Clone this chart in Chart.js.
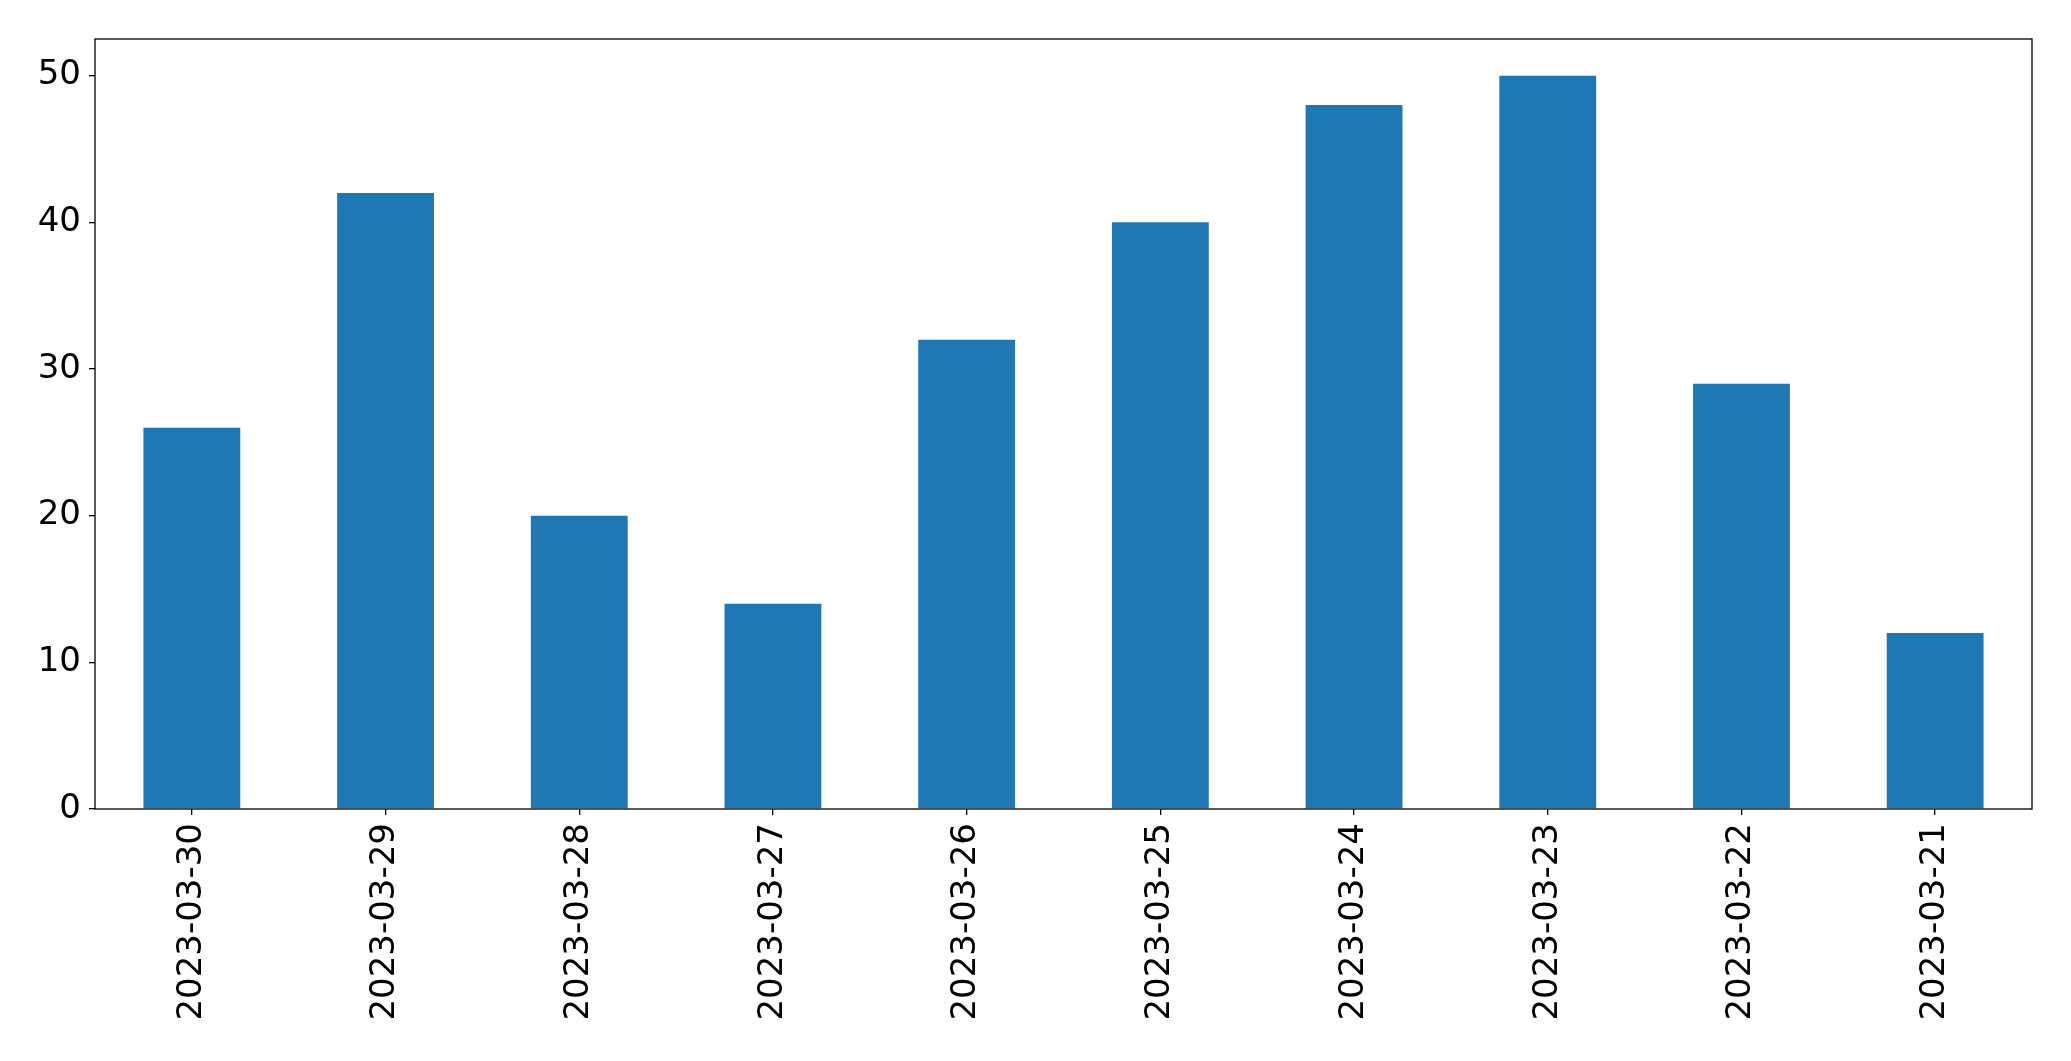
<!DOCTYPE html>
<html>
<head>
<meta charset="utf-8">
<script src="https://cdn.jsdelivr.net/npm/chart.js@4/dist/chart.umd.min.js"></script>
<style>
  html, body { margin: 0; padding: 0; background: #fff; }
  #wrap { width: 2071px; height: 1061px; position: relative; }
</style>
</head>
<body>
<div id="wrap"><canvas id="chart"></canvas></div>
<script>
const dates = ['2023-03-30', '2023-03-29', '2023-03-28', '2023-03-27', '2023-03-26',
               '2023-03-25', '2023-03-24', '2023-03-23', '2023-03-22', '2023-03-21'];
const counts = [26, 42, 20, 14, 32, 40, 48, 50, 29, 12];
const yTicks = [0, 10, 20, 30, 40, 50];

const tickFont = { family: '"DejaVu Sans", sans-serif', size: 34 };

// black frame around the plot area, like matplotlib spines
const frame = {
    id: 'frame',
    afterDatasetsDraw(chart) {
        const a = chart.chartArea, ctx = chart.ctx;
        ctx.save();
        ctx.strokeStyle = '#000';
        ctx.lineWidth = 1.3;
        ctx.strokeRect(a.left, a.top, a.right - a.left, a.bottom - a.top);
        ctx.restore();
    }
};

new Chart(document.getElementById('chart'), {
    type: 'bar',
    data: {
        labels: dates,
        datasets: [{ data: counts, backgroundColor: '#1f77b4', borderWidth: 0,
            categoryPercentage: 1.0, barPercentage: 0.5 }]
    },
    options: {
        responsive: true, maintainAspectRatio: false, animation: false,
        layout: { padding: { top: 39, right: 39, left: 0, bottom: 0 } },
        plugins: { legend: { display: false }, tooltip: { enabled: false } },
        scales: {
            x: {
                offset: true,
                grid: { display: true, offset: false, drawOnChartArea: false, drawTicks: true, tickLength: 6, color: '#000', lineWidth: 1.3 },
                border: { display: false },
                ticks: { color: '#000', font: tickFont, minRotation: 90, maxRotation: 90, padding: 8, autoSkip: false },
                afterFit(s) { s.height = 252; }
            },
            y: {
                min: 0, max: 52.5,
                afterBuildTicks(s) { s.ticks = yTicks.map(v => ({ value: v })); },
                grid: { display: true, drawOnChartArea: false, drawTicks: true, tickLength: 6, color: '#000', lineWidth: 1.3 },
                border: { display: false },
                ticks: { color: '#000', font: tickFont, padding: 8 },
                afterFit(s) { s.width = 95; }
            }
        }
    },
    plugins: [frame]
});
</script>
</body>
</html>
